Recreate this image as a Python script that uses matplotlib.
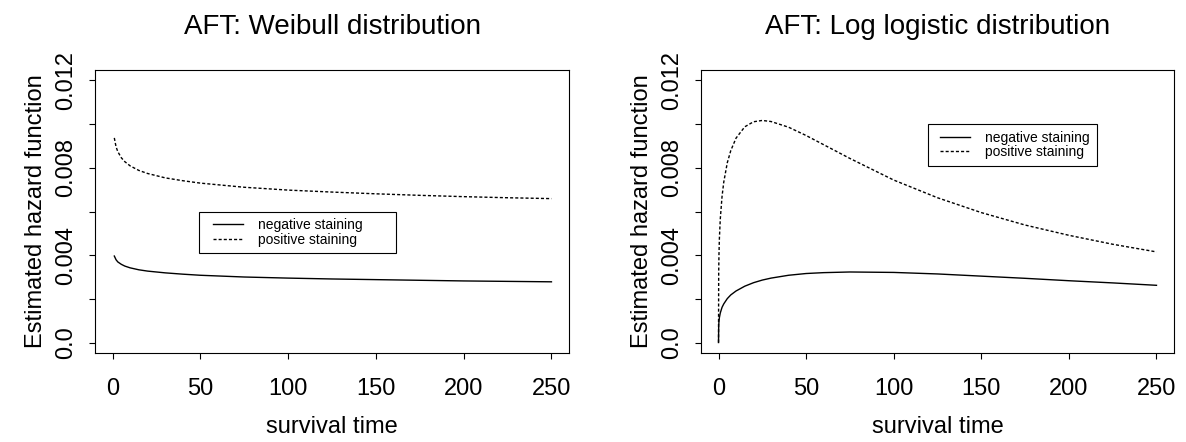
import matplotlib
matplotlib.use("Agg")
import matplotlib.pyplot as plt
from matplotlib.lines import Line2D
from matplotlib.patches import Rectangle

plt.rcParams['font.family'] = ['Liberation Sans', 'DejaVu Sans']

# Weibull AFT: values
t_wb = [1, 2, 3, 5, 7, 10, 15, 20, 30, 40, 50, 75, 100, 125, 150, 175, 200, 225, 250]
wb_neg = [0.00396, 0.00379, 0.00369, 0.00358, 0.00350, 0.00342, 0.00333, 0.00327,
          0.00319, 0.00313, 0.00308, 0.00300, 0.00295, 0.00291, 0.00288, 0.00285,
          0.00282, 0.00280, 0.00278]
wb_pos = [0.00937, 0.00896, 0.00874, 0.00846, 0.00828, 0.00809, 0.00788, 0.00774,
          0.00754, 0.00741, 0.00730, 0.00711, 0.00698, 0.00689, 0.00681, 0.00674,
          0.00668, 0.00663, 0.00659]

# log logistic AFT
t_ll = [0, 0.1, 0.25, 0.5, 1, 2, 3, 5, 7, 10, 15, 20, 25, 30, 40, 50, 60, 75, 100,
        125, 150, 175, 200, 225, 250]
ll_neg = [0.0, 0.00076, 0.00096, 0.00114, 0.00135, 0.00161, 0.00177, 0.00201, 0.00218,
          0.00236, 0.00258, 0.00274, 0.00286, 0.00295, 0.00308, 0.00316, 0.00320,
          0.00323, 0.00321, 0.00314, 0.00304, 0.00294, 0.00283, 0.00273, 0.00262]
ll_pos = [0.0, 0.00319, 0.00401, 0.00477, 0.00565, 0.00668, 0.00735, 0.00823, 0.00879,
          0.00936, 0.00988, 0.01011, 0.01017, 0.01012, 0.00986, 0.00948, 0.00906,
          0.00843, 0.00744, 0.00663, 0.00595, 0.00538, 0.00491, 0.00450, 0.00415]

titles = ["AFT: Weibull distribution", "AFT: Log logistic distribution"]
labels = ["negative staining", "positive staining"]
xticks = [0, 50, 100, 150, 200, 250]
yticks = [0, 0.002, 0.004, 0.006, 0.008, 0.010, 0.012]
ytick_labels = ["0.0", "", "0.004", "", "0.008", "", "0.012"]

fig = plt.figure(figsize=(11.86, 4.42), dpi=100)
ax1 = fig.add_axes([95/1186, 89/442, 474/1186, 283/442])
ax2 = fig.add_axes([701/1186, 89/442, 473/1186, 283/442])

dash = (2.2, 1.5)
ax1.plot(t_wb, wb_neg, color='black', lw=1.0)
ax1.plot(t_wb, wb_pos, color='black', lw=1.0, dashes=dash)
ax2.plot(t_ll, ll_neg, color='black', lw=1.0)
ax2.plot(t_ll, ll_pos, color='black', lw=1.0, dashes=dash)

# legend boxes: (rect x, y, w, h), handle anchor
leg_pos = [((0.2194, 0.3534, 0.4156, 0.1449), (0.249, 0.4258)),
           ((0.48, 0.6608, 0.357, 0.1484), (0.5053, 0.735))]

for ax, title, (rect, anchor) in zip([ax1, ax2], titles, leg_pos):
    ax.set_xlim(-10, 260)
    ax.set_ylim(-0.00048, 0.01248)
    ax.set_xticks(xticks)
    ax.set_xticklabels([str(v) for v in xticks])
    ax.set_yticks(yticks)
    ax.set_yticklabels(ytick_labels, rotation=90, va='center')
    ax.tick_params(direction='out', length=4, width=0.8, labelsize=17, color='black')
    ax.tick_params(axis='x', pad=14)
    ax.tick_params(axis='y', pad=9)
    for s in ax.spines.values():
        s.set_linewidth(0.8)
    ax.set_title(title, fontsize=20, y=1.127, pad=0, va='baseline')
    ax.set_xlabel("survival time", fontsize=17)
    ax.xaxis.set_label_coords(0.5, -0.222)
    ax.set_ylabel("Estimated hazard function", fontsize=17)
    ax.yaxis.set_label_coords(-0.101, 0.5)

    ax.add_patch(Rectangle(rect[:2], rect[2], rect[3], transform=ax.transAxes,
                           fill=False, edgecolor='black', lw=0.8, zorder=5))
    handles = [Line2D([], [], color='black', lw=1.0),
               Line2D([], [], color='black', lw=1.0, dashes=dash)]
    ax.legend(handles, labels, loc='center left', bbox_to_anchor=anchor,
              frameon=False, fontsize=10, handlelength=2.16, handletextpad=1.08,
              borderpad=0, borderaxespad=0, labelspacing=0.05)

fig.savefig("out.png", dpi=100)
